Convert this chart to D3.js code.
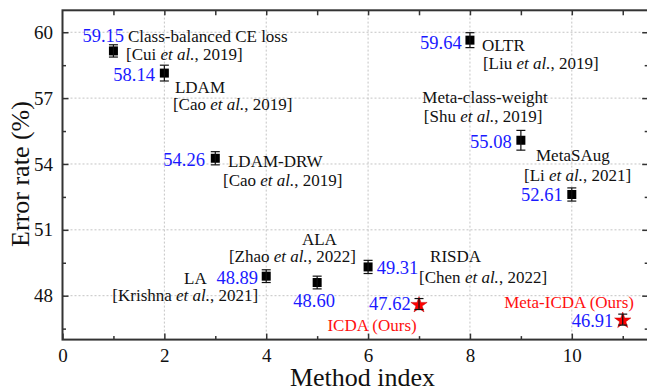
<!DOCTYPE html>
<html lang="en">
<head>
<meta charset="UTF-8">
<title>Error rate by method</title>
<script src="https://d3js.org/d3.v7.min.js"></script>
<style>
    body { margin: 0; background: white; }
    svg { display: block; }
    svg text { font-family: "Liberation Serif", "Times New Roman", serif; }
</style>
</head>
<body>
<svg id="chart" width="647" height="391"></svg>
<script>
// data
const methodIndex = [1, 2, 3, 4, 5, 6, 7, 8, 9, 10, 11];
const errorRate = [59.15, 58.14, 54.26, 48.89, 48.60, 49.31, 47.62, 59.64, 55.08, 52.61, 46.91];
const errorStd = [0.28, 0.36, 0.30, 0.29, 0.29, 0.30, 0.25, 0.34, 0.45, 0.30, 0.25];
const isOurs = [false, false, false, false, false, false, true, false, false, false, true];
const methodName = ["Class-balanced CE loss", "LDAM", "LDAM-DRW", "LA", "ALA", "RISDA",
    "ICDA (Ours)", "OLTR", "Meta-class-weight", "MetaSAug", "Meta-ICDA (Ours)"];
const methodRef = ["Cui", "Cao", "Cao", "Krishna", "Zhao", "Chen", null, "Liu", "Shu", "Li", null];
const methodYear = [2019, 2019, 2019, 2021, 2022, 2022, null, 2019, 2019, 2021, null];
const xTicks = [0, 2, 4, 6, 8, 10];
const yTicks = [48, 51, 54, 57, 60];

// label placement (offsets from the marker, in px)
const valuePos = [[10.6, -9.3, "end"], [-9.4, 7.8, "end"], [-10.3, 7.4, "end"], [-8.2, 7.6, "end"],
    [-3, 24, "middle"], [8.6, 7.5, "start"], [-8.3, 5.6, "end"], [-8.2, 8.5, "end"],
    [-9.2, 7.8, "end"], [-9.1, 7, "end"], [-9.4, 7.2, "end"]];
const namePos = [[14.6, -9.3, "start"], [10.6, 19.5, "start"], [12.7, 9, "start"], [-59.5, 7.6, "end"],
    [-15.2, -37.8, "start"], [62, -4.8, "start"], [-2.3, 27, "end"], [12, 10.8, "start"],
    [-98.6, -36.8, "start"], [-35.8, -33, "start"], [11.3, -11.2, "end"]];
const refPos = [[12.6, 9.3, "start"], [8.6, 37, "start"], [7.7, 27.4, "start"], [-8, 25.3, "end"],
    [38.8, -20.4, "end"], [51, 16.2, "start"], null, [13, 29, "start"],
    [-97, -17.8, "start"], [-47.8, -13.7, "start"], null];

const SERIF = "Liberation Serif, Times New Roman, serif";
const svg = d3.select("#chart").attr("font-family", SERIF);

const x = d3.scaleLinear().domain([0, 11.5]).range([62.5, 648.2]);
const y = d3.scaleLinear().domain([46, 61]).range([339.6, 10.3]);

const [x0, x1] = x.range();
const [y0, y1] = y.range();

// grid
svg.append("g").selectAll("line").data(xTicks.slice(1)).join("line")
    .attr("x1", d => x(d)).attr("x2", d => x(d)).attr("y1", y0).attr("y2", y1)
    .attr("stroke", "#c4c4c4").attr("stroke-width", 1).attr("stroke-dasharray", "2,2");
svg.append("g").selectAll("line").data(yTicks).join("line")
    .attr("x1", x0).attr("x2", x1).attr("y1", d => y(d)).attr("y2", d => y(d))
    .attr("stroke", "#c4c4c4").attr("stroke-width", 1).attr("stroke-dasharray", "2,2");

// axes with inward ticks
function styleAxis(g) {
    g.attr("font-family", SERIF).attr("font-size", 19);
    g.select(".domain").remove();
    g.selectAll(".tick line").attr("stroke", "#333").attr("stroke-width", 1.5);
    g.selectAll(".tick text").attr("fill", "#111");
}

svg.append("g").attr("transform", `translate(0,${y0})`)
    .call(d3.axisBottom(x).tickValues(xTicks).tickSize(-6).tickPadding(9).tickFormat(d3.format("d")))
    .call(styleAxis);
svg.append("g").attr("transform", `translate(0,${y0})`)
    .call(d3.axisBottom(x).tickValues([1, 3, 5, 7, 9, 11]).tickSize(-3.5).tickFormat(""))
    .call(styleAxis);
svg.append("g").attr("transform", `translate(0,${y1})`)
    .call(d3.axisTop(x).tickValues(d3.range(1, 12)).tickSize(-5).tickFormat(""))
    .call(styleAxis);

svg.append("g").attr("transform", `translate(${x0},0)`)
    .call(d3.axisLeft(y).tickValues(yTicks).tickSize(-6).tickPadding(9.5).tickFormat(d3.format("d")))
    .call(styleAxis);
svg.append("g").attr("transform", `translate(${x0},0)`)
    .call(d3.axisLeft(y).tickValues(yTicks.map(v => v - 1.5)).tickSize(-3.5).tickFormat(""))
    .call(styleAxis);
svg.append("g").attr("transform", `translate(${x1},0)`)
    .call(d3.axisRight(y).tickValues(yTicks).tickSize(-6).tickFormat(""))
    .call(styleAxis);
svg.append("g").attr("transform", `translate(${x1},0)`)
    .call(d3.axisRight(y).tickValues(yTicks.map(v => v - 1.5)).tickSize(-3.5).tickFormat(""))
    .call(styleAxis);

// frame
svg.append("rect").attr("x", x0).attr("y", y1).attr("width", x1 - x0).attr("height", y0 - y1)
    .attr("fill", "none").attr("stroke", "#333").attr("stroke-width", 2);

// axis titles
svg.append("text").attr("x", 362.5).attr("y", 386).attr("text-anchor", "middle")
    .attr("font-size", 26).attr("fill", "#111").text("Method index");
svg.append("text").attr("transform", "translate(28.5,174) rotate(-90)").attr("text-anchor", "middle")
    .attr("font-size", 26).attr("fill", "#111").text("Error rate (%)");

const pts = methodIndex.map((m, i) => ({
    m, v: errorRate[i], s: errorStd[i], ours: isOurs[i],
    name: methodName[i], ref: methodRef[i], year: methodYear[i]
}));

// markers
const marks = svg.append("g");
marks.selectAll("rect").data(pts.filter(d => !d.ours)).join("rect")
    .attr("x", d => x(d.m) - 4.5).attr("y", d => y(d.v) - 4.5)
    .attr("width", 9).attr("height", 9).attr("fill", "#000");
marks.selectAll("path").data(pts.filter(d => d.ours)).join("path")
    .attr("transform", d => `translate(${x(d.m)},${y(d.v) + 1})`)
    .attr("d", d3.symbol(d3.symbolStar, 82))
    .attr("fill", "#ff0000").attr("stroke", "#c00000").attr("stroke-width", 0.5);

// error bars
const eb = svg.append("g").attr("stroke", "#111").attr("stroke-width", 1.2);
pts.forEach(d => {
    const cx = x(d.m), top = y(d.v + d.s), bot = y(d.v - d.s);
    eb.append("line").attr("x1", cx).attr("x2", cx).attr("y1", top).attr("y2", bot);
    eb.append("line").attr("x1", cx - 4.5).attr("x2", cx + 4.5).attr("y1", top).attr("y2", top);
    eb.append("line").attr("x1", cx - 4.5).attr("x2", cx + 4.5).attr("y1", bot).attr("y2", bot);
});

// labels
const lab = svg.append("g");
pts.forEach((d, i) => {
    const cx = x(d.m), cy = y(d.v);
    const vp = valuePos[i];
    lab.append("text").attr("x", cx + vp[0]).attr("y", cy + vp[1]).attr("text-anchor", vp[2])
        .attr("font-size", 18.5).attr("fill", "#1a1aff").text(d.v.toFixed(2));
    const np = namePos[i];
    lab.append("text").attr("x", cx + np[0]).attr("y", cy + np[1]).attr("text-anchor", np[2])
        .attr("font-size", 17).attr("fill", d.ours ? "#ff1010" : "#111").text(d.name);
    const rp = refPos[i];
    if (rp && d.ref) {
        const t = lab.append("text").attr("x", cx + rp[0]).attr("y", cy + rp[1]).attr("text-anchor", rp[2])
            .attr("font-size", 17).attr("fill", "#111");
        t.append("tspan").text(`[${d.ref} `);
        t.append("tspan").attr("font-style", "italic").text("et al.");
        t.append("tspan").text(`, ${d.year}]`);
    }
});
</script>
</body>
</html>
